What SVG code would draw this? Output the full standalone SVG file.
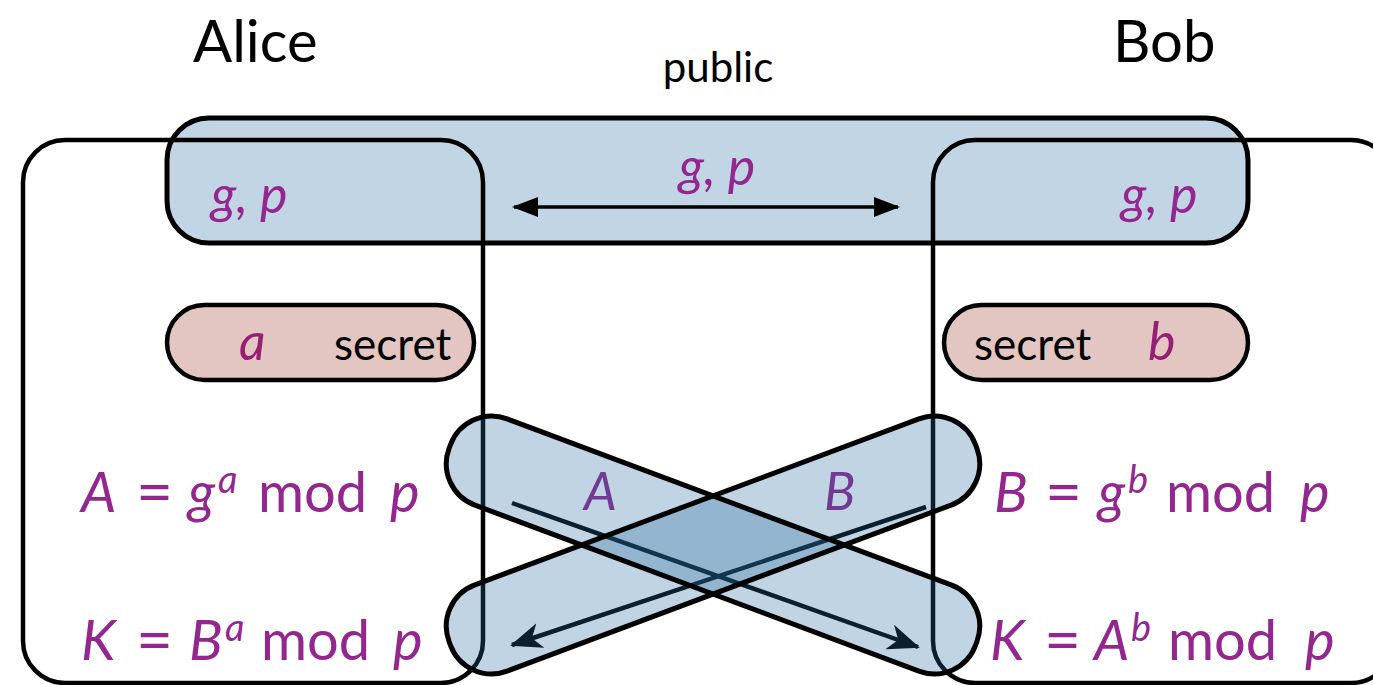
<svg xmlns="http://www.w3.org/2000/svg" width="1373" height="685" viewBox="0 0 1373 685">
  <style>
    text { font-family: Lato, "Open Sans", "Liberation Sans", sans-serif; }
    .title { font-size: 58px; fill: #000; }
    .lbl { font-size: 42px; fill: #000; }
    .sec { font-size: 44px; fill: #000; }
    .m { fill: #93278f; font-size: 56px; }
    .eq { font-size: 64px; }
    .i { font-style: italic; }
    .sup { font-size: 38px; }
    .var { fill: #951f74; font-size: 52px; font-style: italic; }
    .gp { fill: #93278f; font-size: 52px; font-style: italic; }
    .box { fill: none; stroke: #000; stroke-width: 4.5; }
    .pub { fill: #c1d5e4; stroke: #000; stroke-width: 5; }
    .secbox { fill: #e3c5c2; stroke: #000; stroke-width: 4.5; }
    .pillfill { fill: rgb(38,107,159); fill-opacity: 0.29; stroke: none; }
    .pilledge { fill: none; stroke: #000; stroke-width: 5; }
    .msg { stroke: #000; stroke-width: 4.5; fill: none; }
  </style>
  <defs>
    <marker id="head" viewBox="0 0 32 26" refX="30" refY="13" markerWidth="32" markerHeight="26" markerUnits="userSpaceOnUse" orient="auto-start-reverse">
      <path d="M0,0 L32,13 L0,26 L9,13 Z" fill="#000"/>
    </marker>
    <marker id="head2" viewBox="0 0 26 22" refX="24" refY="11" markerWidth="26" markerHeight="22" markerUnits="userSpaceOnUse" orient="auto-start-reverse">
      <path d="M0,1 L26,11 L0,21 Z" fill="#000"/>
    </marker>
  </defs>

  <!-- shared channel -->
  <g id="public">
    <rect class="pub" x="167" y="118" width="1081" height="125" rx="42"/>
    <text class="lbl" x="718" y="82" text-anchor="middle">public</text>
  </g>

  <!-- parties -->
  <g id="alice">
    <rect class="box" x="23" y="140" width="460" height="543" rx="42"/>
    <text class="title" x="193" y="62">Alice</text>
    <text class="gp" x="211" y="213">g, p</text>
  </g>
  <g id="bob">
    <rect class="box" x="933" y="140" width="460" height="543" rx="42"/>
    <text class="title" x="1113" y="62">Bob</text>
    <text class="gp" x="1121" y="213">g, p</text>
  </g>

  <g id="secret-a">
    <rect class="secbox" x="167" y="305" width="307" height="75" rx="37.5"/>
    <text class="var" x="239" y="360">a</text>
    <text class="sec" x="334" y="360">secret</text>
  </g>
  <g id="secret-b">
    <rect class="secbox" x="944" y="305" width="304" height="75" rx="37.5"/>
    <text class="sec" x="974" y="360">secret</text>
    <text class="var" x="1148" y="360">b</text>
  </g>

  <g id="alice-calc">
    <text class="m"><tspan class="i" x="81" y="512">A</tspan><tspan class="eq" x="136" y="514">=</tspan><tspan class="i" x="188" y="512">g</tspan><tspan class="i sup" x="218" y="493">a</tspan><tspan x="258" y="512">mod</tspan><tspan class="i" x="390" y="512">p</tspan></text>
    <text class="m"><tspan class="i" x="81" y="660">K</tspan><tspan class="eq" x="136" y="662">=</tspan><tspan class="i" x="189" y="660">B</tspan><tspan class="i sup" x="225" y="641">a</tspan><tspan x="261" y="660">mod</tspan><tspan class="i" x="393" y="660">p</tspan></text>
  </g>
  <g id="bob-calc">
    <text class="m"><tspan class="i" x="994" y="512">B</tspan><tspan class="eq" x="1045" y="514">=</tspan><tspan class="i" x="1098" y="512">g</tspan><tspan class="i sup" x="1128" y="493">b</tspan><tspan x="1166" y="512">mod</tspan><tspan class="i" x="1300" y="512">p</tspan></text>
    <text class="m"><tspan class="i" x="990" y="660">K</tspan><tspan class="eq" x="1044" y="662">=</tspan><tspan class="i" x="1094" y="660">A</tspan><tspan class="i sup" x="1131" y="641">b</tspan><tspan x="1168" y="660">mod</tspan><tspan class="i" x="1305" y="660">p</tspan></text>
  </g>

  <!-- connectors -->
  <g id="connectors">
    <line class="msg" style="stroke-width:3.5" x1="514" y1="207" x2="898" y2="207" marker-start="url(#head2)" marker-end="url(#head2)"/>
    <text class="gp" x="717" y="185" text-anchor="middle">g, p</text>
    <line class="msg" x1="512" y1="503" x2="918" y2="647" marker-end="url(#head)"/>
    <line class="msg" x1="926" y1="507" x2="512" y2="645" marker-end="url(#head)"/>
  </g>

  <!-- exchanged values -->
  <g id="send-A">
    <text class="gp" x="584" y="510">A</text>
  </g>
  <g id="send-B">
    <text class="gp" x="824" y="510">B</text>
  </g>
  <g id="bands">
    <rect class="pillfill" x="432" y="499" width="562" height="92" rx="44" transform="rotate(20.5 713 545)"/>
    <rect class="pillfill" x="432" y="499" width="562" height="92" rx="44" transform="rotate(-20.5 713 545)"/>
    <rect class="pilledge" x="432" y="499" width="562" height="92" rx="44" transform="rotate(20.5 713 545)"/>
    <rect class="pilledge" x="432" y="499" width="562" height="92" rx="44" transform="rotate(-20.5 713 545)"/>
  </g>
</svg>
